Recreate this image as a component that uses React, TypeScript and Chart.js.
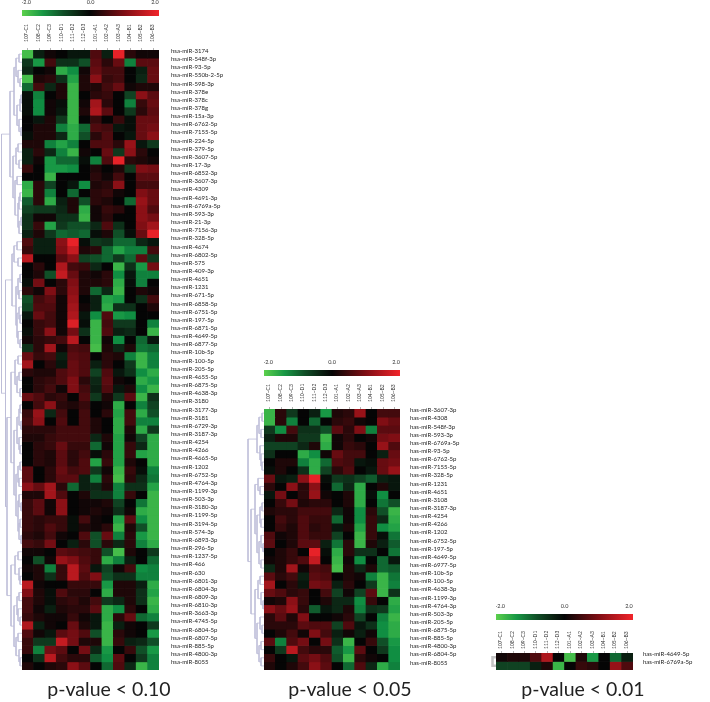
import React, { useEffect, useRef } from "react";
import { Chart, registerables } from "chart.js";
Chart.register(...registerables);

const columns = ["107~C1","108~C2","109~C3","110~D1","111~D2","112~D3","101~A1","102~A2","103~A3","104~B1","105~B2","106~B3"];

const labels1 = ["hsa-miR-3174","hsa-miR-548f-3p","hsa-miR-93-5p","hsa-miR-550b-2-5p","hsa-miR-598-3p","hsa-miR-378e","hsa-miR-378c","hsa-miR-378g","hsa-miR-15a-3p","hsa-miR-6762-5p","hsa-miR-7155-5p","hsa-miR-224-5p","hsa-miR-379-5p","hsa-miR-3607-5p","hsa-miR-17-3p","hsa-miR-6852-3p","hsa-miR-3607-3p","hsa-miR-4309","hsa-miR-4691-3p","hsa-miR-6769a-5p","hsa-miR-593-3p","hsa-miR-21-3p","hsa-miR-7156-3p","hsa-miR-328-5p","hsa-miR-4674","hsa-miR-6802-5p","hsa-miR-575","hsa-miR-409-3p","hsa-miR-4651","hsa-miR-1231","hsa-miR-671-5p","hsa-miR-6858-5p","hsa-miR-6751-5p","hsa-miR-197-5p","hsa-miR-6871-5p","hsa-miR-4649-5p","hsa-miR-6877-5p","hsa-miR-10b-5p","hsa-miR-100-5p","hsa-miR-205-5p","hsa-miR-4655-5p","hsa-miR-6875-5p","hsa-miR-4638-3p","hsa-miR-3180","hsa-miR-3177-3p","hsa-miR-3181","hsa-miR-6729-3p","hsa-miR-3187-3p","hsa-miR-4254","hsa-miR-4266","hsa-miR-4665-5p","hsa-miR-1202","hsa-miR-6752-5p","hsa-miR-4764-3p","hsa-miR-1199-3p","hsa-miR-503-3p","hsa-miR-3180-3p","hsa-miR-1199-5p","hsa-miR-3194-5p","hsa-miR-574-3p","hsa-miR-6893-3p","hsa-miR-296-5p","hsa-miR-1237-5p","hsa-miR-466","hsa-miR-630","hsa-miR-6801-3p","hsa-miR-6804-3p","hsa-miR-6809-3p","hsa-miR-6810-3p","hsa-miR-3663-3p","hsa-miR-4745-5p","hsa-miR-6804-5p","hsa-miR-6807-5p","hsa-miR-885-5p","hsa-miR-4800-3p","hsa-miR-8055"];

const values1 = [
[-1.8,-0.3,0.1,0,-0.2,-0.2,0.6,-0.3,1.9,0.3,0.1,0.1],
[-0.6,-1.4,0.5,-0.5,-0.5,-0.8,0.7,0.3,0.8,-1.2,0.7,0.7],
[-0.4,0,0.1,-1.6,-1.3,0.1,0.8,0.5,0.5,0,-0.3,0.8],
[-1.8,0.2,0.3,-0.5,-1.5,0.2,1.1,0.4,0.5,0,-0.4,0.8],
[-1.0,0.5,-0.4,0.2,-1.7,0.2,0.2,0.5,0.8,0.1,0.2,0.2],
[-0.1,-1.2,0,0.2,-1.7,0,0.3,0.4,0,-0.7,1.1,0.7],
[-0.1,-1.3,0.1,-0.1,-1.7,0.1,1.3,0.3,0,-1.2,0.4,0.8],
[-0.1,-1.3,0.1,-0.2,-1.7,0.2,1.4,0.7,0,-0.6,0.3,0.7],
[0,-0.2,0.2,-0.6,-1.7,0,0.4,0,0.4,-0.1,0.8,0.8],
[0,0.2,0.2,-1.2,-1.6,-1.0,0.6,0.5,-0.2,-0.1,0.8,0.9],
[-0.1,0.2,0.2,-0.4,-1.6,-0.8,0.3,0.6,0,-0.2,0.8,1.1],
[0.2,0.2,-1.2,-1.5,-1.2,0,0.6,0.6,0.3,1.2,-0.2,-0.6],
[-0.3,0.3,-0.4,-1.2,-1.7,0.1,0,0.8,-0.6,1.1,0.3,0],
[-0.3,0.1,-1.4,-1.0,-1.0,-0.1,-1.2,0.6,1.9,0.3,0.2,0.1],
[0.4,0,-1.4,-1.4,-1.3,0,0.2,0,0.2,-0.6,1.0,0.9],
[0,0,-1.7,0,0,0,0.3,0.1,0.5,0,0.7,0.7],
[-1.6,0.3,-0.7,0,-0.2,-1.3,0.2,0.3,1.1,0,0.5,0.5],
[-1.7,0.3,-1.2,0,-1.0,0,0.3,0.4,0.1,0,1.0,0.8],
[-0.9,0.3,-1.6,-0.3,0.2,-0.8,0.3,0.2,0,-1.0,1.2,0.8],
[-0.7,-0.6,-0.6,-0.4,0.2,-1.6,0.1,0.4,0.3,0,1.1,0.6],
[-0.5,0.1,0.1,-0.5,-0.5,-1.7,0.1,0.3,0,0,1.1,0.9],
[-0.5,0.4,-1.5,-0.6,-0.8,-0.8,-0.4,0.6,-0.5,0,1.0,1.3],
[-0.3,0.2,-0.6,-1.0,-0.9,-1.0,-0.1,0.2,-0.8,-0.1,0.8,1.9],
[0.6,-0.3,-0.3,1.1,1.9,-0.1,-0.6,-0.5,-1.0,-1.0,-0.4,-0.2],
[0.4,-0.3,-0.3,1.0,1.6,0.2,0.3,-1.0,-1.5,-1.2,-1.2,0.5],
[1.5,0,0,0.7,1.1,-0.7,-0.8,-1.0,-0.6,-1.0,0.7,-0.6],
[0,0.3,0,1.4,0.5,0.4,-0.4,0,-1.7,-0.5,-1.4,0.9],
[0,0.2,-0.8,1.6,0.8,0.2,0.1,0.3,-1.3,-0.2,-1.2,-1.2],
[-0.1,0.9,0,0.3,1.0,0.2,0.2,0.3,-1.6,-0.1,-1.2,0],
[0.3,0.1,1.0,0.3,1.1,0.2,-1.0,-0.4,-1.7,0,0.2,0.1],
[-0.8,0.5,0.7,0.1,1.2,0,-0.3,-1.5,-1.4,0,-0.5,0.5],
[-0.7,0.6,0.6,0.1,1.3,0.1,-0.3,-1.6,-0.5,-0.5,0,0.2],
[-0.2,0.8,0.5,0.1,1.4,-0.2,-1.3,0.6,-1.4,-1.3,0,0],
[0,0.4,0.5,0.1,1.8,-0.1,-1.7,0.5,-0.6,-0.6,0,-1.2],
[-0.1,0.4,1.1,0.1,0.9,-0.5,-1.7,0.6,-0.3,-0.4,0,-1.7],
[0.1,0.3,0.4,0.5,1.5,0,-1.7,0.1,-1.3,0,-1.0,-0.2],
[-0.5,0.3,1.3,0.1,0.6,0.5,-1.8,0.2,-0.4,0.2,-1.1,-1.0],
[0.8,0.4,0.5,-0.3,0.7,0.6,0,0.3,0.2,-1.2,-1.7,-1.2],
[1.3,0,0.3,-0.2,0.8,0.6,-0.3,0.3,0,-0.6,-1.7,-1.2],
[0.3,0.2,0.2,0.6,0.8,0.6,-0.7,0.6,-0.2,-0.5,-1.3,-1.6],
[0,0.3,0.4,0.6,1.0,0.3,-0.4,0.7,0.1,0,-1.6,-1.4],
[0,0.3,0.5,0.1,1.0,0.5,-0.3,0.6,-0.2,0.2,-1.3,-1.7],
[0.8,0.6,0.3,0.4,0,0.6,-0.6,0.2,-0.6,0.7,-1.7,-0.5],
[0,0.5,1.1,0.3,0.2,0.4,0,0.1,-1.6,0,-1.2,-0.7],
[0.4,1.2,-0.4,0.5,0,0.5,0,0.3,-1.5,0.5,-1.6,-0.8],
[0.5,1.1,0,0.6,0,0.5,0.2,0,-1.6,0.5,-1.2,-1.2],
[0.3,0.3,0.3,0.5,0.5,0.5,0.2,0,-1.6,0.2,-1.6,-0.6],
[0.2,0.2,0.4,0.5,0.5,0.5,-0.4,0.2,-1.5,0.1,-0.7,-1.6],
[0,0.3,0.4,0.8,0.4,0.4,-1.0,0.1,-1.5,0.4,-0.4,-1.6],
[0,0.3,0.2,0.7,0.3,0.5,-0.1,0.3,-1.5,0.4,-1.5,-1.6],
[0,0.3,0.2,0.7,0.3,0.6,-1.5,0.4,-1.5,0.2,0,-1.6],
[0.7,0,0.3,0.8,0.5,0.6,-0.6,0.1,-1.7,0.4,-0.1,-1.2],
[0.7,0,0.3,0.7,0.7,-0.3,-1.2,0.3,-1.8,0.3,-0.4,-1.1],
[1.1,0.8,1.3,0.3,-1.0,-0.3,-0.4,0.2,-1.2,-0.5,-0.5,-1.5],
[0.2,0.2,1.3,0.6,0,0.2,-0.5,-0.5,-1.2,0.4,0,-1.7],
[0.4,0.7,0.1,1.1,0,0.1,0.1,0.2,-0.7,0,-1.1,-1.7],
[0.4,0.7,0.1,1.1,0,0.1,0.2,0.1,-0.5,0.1,-1.6,-1.7],
[0.4,0.3,0.4,0.4,-0.1,0.5,0.1,0,-1.5,0.7,-1.3,-1.7],
[0.4,0.3,0.6,0.4,-0.1,0.2,0.1,0.3,-1.7,0.2,-0.8,-1.7],
[0.3,0.2,0.5,0.1,0,0.6,-0.8,0.8,-1.2,0.3,-1.4,-1.7],
[0.5,0.4,0.9,0,-0.3,0.3,-0.8,0.3,-0.4,0.3,-1.2,-1.6],
[0.1,0.1,0,0.7,0.6,0.5,0.4,-0.8,-1.8,0.2,0,-0.6],
[0,-0.8,0.1,1.2,1.0,0.6,0.4,-1.6,-1.2,-0.3,0,-1.0],
[0.1,0.2,-1.2,0.4,1.5,0.7,-0.2,-0.7,0.1,0.5,-1.3,-1.2],
[0,0.2,-0.5,0.4,1.5,0.6,1.0,-0.8,-0.5,-0.5,-1.2,-1.2],
[1.5,0.1,0,0,0.4,0.4,0.4,-1.4,0.2,0.2,-0.3,-1.6],
[1.0,0.2,-0.1,0.6,0.3,0.3,0,-1.6,0.2,0.2,-0.5,-1.5],
[0.5,0.2,-0.1,0.3,0.4,0.2,0.5,-0.6,-0.4,0.2,-0.5,-1.7],
[0.5,0.1,-0.3,0.2,0.3,0.3,0.7,-1.6,-1.3,0.3,0,-1.6],
[0.4,0.2,0.1,0.1,0.4,0.1,-0.2,-1.6,0.3,0.8,-1.0,-1.2],
[1.4,-0.3,0.1,0,0.8,0.2,-0.2,-1.7,-0.3,0.1,0,-0.6],
[0.6,0.1,-0.2,0.7,0.9,0.6,-0.8,-1.7,0.3,0.1,0,-1.4],
[0.4,-0.6,-0.6,1.6,0.9,0.2,0.2,-1.7,0.4,-0.3,-0.4,-0.8],
[0.4,-1.2,0.9,0.7,0,0.9,-0.4,-1.4,0,0.4,-0.8,-1.4],
[0,-0.5,1.5,0.5,0.3,0.3,-0.9,-1.3,0.7,0,-0.6,-1.2],
[0.2,0,0.2,0.3,1.1,0.7,0,-1.0,0.6,-0.4,-1.7,-1.2],
];

const labels2 = ["has-miR-3607-3p","has-miR-4308","has-miR-548f-3p","has-miR-593-3p","has-miR-6769a-5p","has-miR-93-5p","has-miR-6762-5p","has-miR-7155-5p","has-miR-328-5p","has-miR-1231","has-miR-4651","has-miR-3108","has-miR-3187-3p","has-miR-4254","has-miR-4266","has-miR-1202","has-miR-6752-5p","has-miR-197-5p","has-miR-4649-5p","has-miR-6977-5p","has-miR-10b-5p","has-miR-100-5p","has-miR-4638-3p","has-miR-1199-3p","has-miR-4764-3p","has-miR-503-3p","has-miR-205-5p","has-miR-6875-5p","has-miR-885-5p","has-miR-4800-3p","has-miR-6804-5p","has-miR-8055"];

const values2 = [
[-1.7,0.3,-0.6,0,-0.3,-1.4,0.2,0.3,1.2,0,0.5,0.5],
[-1.7,0.3,-1.2,0,-1.0,0,0.3,0.4,0.1,0,1.0,0.8],
[-0.6,-1.3,0.5,-0.5,-0.5,-0.8,0.7,0.3,1.0,-1.2,0.7,0.7],
[-0.3,0.2,0.2,-0.6,-0.6,-1.7,0.1,0.3,0,0.1,0.9,1.0],
[-0.7,-0.7,-0.7,-0.4,0.2,-1.6,0.1,0.4,0.3,0,1.2,0.6],
[-0.5,0,0,-1.6,-1.3,0.1,0.8,0.5,0.5,0,-0.3,0.8],
[0,0.2,0.2,-1.2,-1.6,-1.0,0.6,0.5,-0.2,-0.1,0.8,0.9],
[-0.1,0.2,0,-0.5,-1.6,-0.7,0.3,0.6,0,-0.2,0.8,1.2],
[0.8,-0.2,-0.3,1.1,1.9,-0.1,-0.6,-0.5,-0.7,-0.9,-0.3,-0.2],
[0.3,0,1.1,0.3,1.1,0,-1.0,-0.4,-1.6,0,0.2,-0.2],
[-0.2,0.9,0,0.3,1.2,0.1,0,0.2,-1.6,-0.1,-1.3,0],
[0,0.4,0.9,0.2,0.3,0.3,0,0.2,-1.6,0,-1.1,-0.8],
[0.2,0.3,0.3,0.5,0.5,0.5,-0.4,0.1,-1.3,0.3,-0.8,-1.7],
[0,0.5,0.3,0.6,0.4,0.4,-1.0,0.1,-1.3,0.4,-0.4,-1.6],
[0,0.4,0.2,0.6,0.3,0.4,-0.2,0.2,-1.5,0.4,-1.3,-1.5],
[0.6,0.1,0.2,0.6,0.4,0.4,-0.7,0,-1.7,0.4,-0.1,-1.1],
[0.7,0,0.2,0.7,0.7,-0.3,-1.1,0.3,-1.7,0.2,-0.3,-0.9],
[0,0.2,0.4,0,1.9,-0.1,-1.6,0.3,-0.5,-0.5,0,-1.1],
[0.1,0.2,0.4,0.6,1.6,0,-1.7,0.1,-1.3,0,-1.0,-0.2],
[-0.4,0.2,1.3,0.1,0.6,0.5,-1.8,0.2,-0.4,0.2,-1.0,-0.9],
[0.7,0.3,0.5,-0.3,0.7,0.6,0,0.2,0.1,-1.2,-1.7,-1.1],
[1.3,0,0.3,-0.2,0.9,0.8,-0.3,0.3,0,-0.6,-1.7,-1.2],
[0.8,0.6,0.3,0.4,0,0.5,-0.7,0.1,-0.7,0.7,-1.7,-0.5],
[0.1,0.2,1.1,0.4,0,0.2,-0.4,-0.4,-1.3,0.4,0,-1.6],
[1.1,0.8,1.2,0.3,-0.9,-0.2,-0.4,0.2,-1.2,-0.5,-0.6,-1.5],
[0.3,0.7,0.2,1.0,0,0,0.1,0.3,-0.7,0,-1.2,-1.7],
[0.3,0.3,0.3,0.7,0.6,0.6,-0.7,0.6,-0.2,-0.5,-1.3,-1.6],
[0,0.2,0.5,0.1,1.0,0.5,-0.3,0.1,-0.3,0.1,-1.3,-1.6],
[0.7,-1.2,0.6,0.9,0,0.9,-0.5,-1.7,0,0.4,-0.8,-1.4],
[0,-0.6,1.5,0.5,0.3,0.3,-0.9,-1.4,0.7,0,-0.6,-1.3],
[0.4,0,-0.2,0.7,0.9,0.6,-0.8,-1.7,0.3,0.1,0,-1.3],
[0.2,0,0.2,0.5,1.1,0.7,0,-1.0,0.6,-0.4,-1.6,-1.2],
];

const labels3 = ["has-miR-4649-5p","has-miR-6769a-5p"];
const values3 = [
[0.1,0.2,0.2,0.6,1.4,0,-1.8,0.2,-1.4,0,-1.0,-0.3],
[-0.7,-0.7,-0.7,-0.3,0.2,-1.7,0,0.4,0.3,0,1.2,0.6],
];

// Dendrograms: leaf = 1, merge = [merge height, upper branch, lower branch]
type Tree = number | [number, Tree, Tree];
const L = 1;
const tree1: Tree = [20.5,
  [12,
    [8, [6,[3,L,L],[4,L,[2,L,L]]], [5,[2,[1,L,L],L],[3,L,[1,L,L]]]],
    [9, [6,[4,L,L],[3,L,L]], [7,[5,L,L],[4,[3,[2,L,L],L],[3,[1,L,L],L]]]]],
  [16.5,
    [10, [8,[5,L,L],[4,L,L]], [6,[4,[2,L,L],[3,L,L]],[5,[3,L,[2,L,L]],[4,L,[2,L,L]]]]],
    [15,
      [11, [7,[4,L,L],[5,[3,L,L],[2,L,L]]],
        [8, [5,[3,[2,L,L],[1,L,L]],[3,L,[2,L,L]]], [6,[4,[2,L,L],[3,L,L]],[4,[3,L,[1,L,L]],[3,[2,L,L],[1,L,L]]]]]],
      [11, [7,[4,L,L],[3,L,[2,L,L]]], [8,[5,[3,L,L],[4,L,[2,L,L]]],[6,[4,L,L],[3,L,[2,L,L]]]]]]]];
const tree2: Tree = [16,
  [7, [5,[2,L,L],[3,L,L]], [4,L,[3,L,[2,L,L]]]],
  [13,
    [9, [6,L,[4,L,L]], [7,[4,[2,L,L],[3,L,L]],[5,[3,L,[1,L,L]],[3,L,L]]]],
    [9, [6,[4,L,L],[3,L,[1,L,L]]], [7,[4,L,[2,L,L]],[5,[3,L,L],[3,L,L]]]]]];
const tree3: Tree = [3.5, L, L];

const font = "Lato, 'Open Sans', sans-serif";
const LOW = [[5,5,5],[16,62,32],[16,146,68],[92,208,76]];
const HIGH = [[5,5,5],[128,14,20],[242,36,42]];

function ramp(stops: number[][], t: number) {
  const p = Math.min(t, 1) * (stops.length - 1);
  const i = Math.min(Math.floor(p), stops.length - 2);
  const f = p - i;
  const c = stops[i].map((a, k) => Math.round(a + (stops[i + 1][k] - a) * f));
  return `rgb(${c[0]},${c[1]},${c[2]})`;
}
const colour = (v: number) => (v < 0 ? ramp(LOW, -v / 2) : ramp(HIGH, v / 2));

const noPad = (s: any) => { s.paddingLeft = 0; s.paddingRight = 0; s.paddingTop = 0; s.paddingBottom = 0; };

function heatConfig(rows: number[][], labels: string[], labelMin: number, labelMax: number, headH: number, labelW: number, headPad: number, namePad: number): any {
  return {
    type: "bar",
    data: {
      labels: columns,
      datasets: rows.map((row, r) => ({
        data: row.map(() => [r, r + 1]),
        backgroundColor: row.map(colour),
        borderWidth: 0,
        barPercentage: 1,
        categoryPercentage: 1,
        grouped: false,
        yAxisID: "y",
      })).concat([{ data: [], yAxisID: "rowNames" } as any]),
    },
    options: {
      animation: false, responsive: false, maintainAspectRatio: false,
      layout: { padding: 0 },
      plugins: { legend: { display: false }, tooltip: { enabled: false } },
      scales: {
        x: {
          position: "top", offset: true,
          grid: { display: true, offset: false, drawOnChartArea: false, drawTicks: true, tickLength: 2, color: "#b5b5b5" },
          border: { display: false },
          ticks: { autoSkip: false, minRotation: 90, maxRotation: 90, padding: headPad, labelOffset: 5, font: { family: font, size: 5 }, color: "#333" },
          afterFit: (s: any) => { s.height = headH; noPad(s); },
        },
        y: { type: "linear", display: false, reverse: true, min: 0, max: rows.length },
        rowNames: {
          type: "linear", position: "right", reverse: true, min: labelMin, max: labelMax,
          grid: { display: false }, border: { display: false },
          afterBuildTicks: (s: any) => { s.ticks = labels.map((_, i) => ({ value: i })); },
          afterFit: (s: any) => { s.width = labelW; noPad(s); },
          ticks: { autoSkip: false, padding: namePad, font: { family: font, size: 6 }, color: "#222", callback: (v: number) => labels[v] },
        },
      },
    },
  };
}

function barConfig(headH: number): any {
  const HALF = 2.125;
  return {
    type: "bar",
    data: {
      labels: ["scale"],
      datasets: [{
        data: [[-HALF, HALF]], barPercentage: 1, categoryPercentage: 1, borderWidth: 0,
        backgroundColor: (c: any) => {
          const a = c.chart.chartArea;
          if (!a) return "#000";
          const g = c.chart.ctx.createLinearGradient(a.left, 0, a.right, 0);
          [-2,-1.4,-0.8,-0.3,0,0.5,1,1.5,2].forEach((v) => g.addColorStop((v + 2) / 4, colour(v)));
          return g;
        },
      }],
    },
    options: {
      indexAxis: "y", animation: false, responsive: false, maintainAspectRatio: false,
      layout: { padding: 0 },
      plugins: { legend: { display: false }, tooltip: { enabled: false } },
      scales: {
        y: { display: false },
        x: {
          position: "top", min: -HALF, max: HALF,
          grid: { display: false }, border: { display: false },
          afterBuildTicks: (s: any) => { s.ticks = [{ value: -2 }, { value: 0 }, { value: 2 }]; },
          afterFit: (s: any) => { s.height = headH; noPad(s); },
          ticks: { autoSkip: false, maxRotation: 0, padding: -4, font: { family: font, size: 5.5 }, color: "#333", callback: (v: number) => v.toFixed(1) },
        },
      },
    },
  };
}

function dendroConfig(tree: Tree, rowCount: number, range: number, width: number, stroke: string): any {
  const pts: any[] = [];
  let next = 0;
  const walk = (n: Tree): { y: number; h: number } => {
    if (typeof n === "number") { const y = next + 0.5; next += 1; return { y, h: 0 }; }
    const a = walk(n[1]);
    const b = walk(n[2]);
    pts.push({ x: a.h, y: a.y }, { x: n[0], y: a.y }, { x: n[0], y: b.y }, { x: b.h, y: b.y }, { x: NaN, y: NaN });
    return { y: (a.y + b.y) / 2, h: n[0] };
  };
  walk(tree);
  return {
    type: "scatter",
    data: { datasets: [{ data: pts, showLine: true, spanGaps: false, pointRadius: 0, borderColor: stroke, borderWidth: width, clip: false }] },
    options: {
      animation: false, responsive: false, maintainAspectRatio: false,
      layout: { padding: 0 },
      plugins: { legend: { display: false }, tooltip: { enabled: false } },
      scales: {
        x: { type: "linear", display: false, reverse: true, min: 0, max: range },
        y: { type: "linear", display: false, reverse: true, min: 0, max: rowCount },
      },
    },
  };
}

const panels: any[] = [
  { left: 22, top: 0, w: 220, h: 670, cfg: heatConfig(values1, labels1, -0.12, 75.95, 50, 83, 6, 4) },
  { left: 22, top: -14, w: 137, h: 30, cfg: barConfig(24) },
  { left: 0, top: 50, w: 22, h: 620, cfg: dendroConfig(tree1, 76, 22, 0.8, "#bcbcd8") },
  { left: 264, top: 369, w: 210, h: 301, cfg: heatConfig(values2, labels2, -0.17, 31.9, 40, 74, 5, 2) },
  { left: 264, top: 346, w: 136, h: 30, cfg: barConfig(24) },
  { left: 242, top: 409, w: 22, h: 261, cfg: dendroConfig(tree2, 32, 22, 0.8, "#bcbcd8") },
  { left: 496, top: 623, w: 214, h: 47, cfg: heatConfig(values3, labels3, -0.0875, 2.04, 30, 77, 2, 2) },
  { left: 496, top: 590, w: 137, h: 30, cfg: barConfig(24) },
  { left: 490, top: 653, w: 6, h: 17, cfg: dendroConfig(tree3, 2, 6, 2.5, "#c4c4c4") },
];

const captions = [
  { text: "p-value < 0.10", x: 109 },
  { text: "p-value < 0.05", x: 350 },
  { text: "p-value < 0.01", x: 583 },
];

function Panel({ p }: { p: any }) {
  const ref = useRef<HTMLCanvasElement>(null);
  useEffect(() => {
    const chart = new Chart(ref.current!, p.cfg);
    return () => chart.destroy();
  }, [p]);
  return <canvas ref={ref} width={p.w} height={p.h} style={{ position: "absolute", left: p.left, top: p.top, width: p.w, height: p.h }} />;
}

export default function App() {
  return (
    <div style={{ position: "absolute", left: 0, top: 0, width: 710, height: 702, overflow: "hidden", background: "#fff" }}>
      <div style={{ position: "absolute", inset: 0, filter: "blur(0.5px)" }}>
        {panels.map((p, i) => <Panel key={i} p={p} />)}
      </div>
      {captions.map((c) => (
        <div key={c.text} style={{ position: "absolute", left: c.x - 80, width: 160, top: 676, textAlign: "center", fontFamily: font, fontSize: 19.5, lineHeight: "26px", color: "#222" }}>{c.text}</div>
      ))}
    </div>
  );
}
